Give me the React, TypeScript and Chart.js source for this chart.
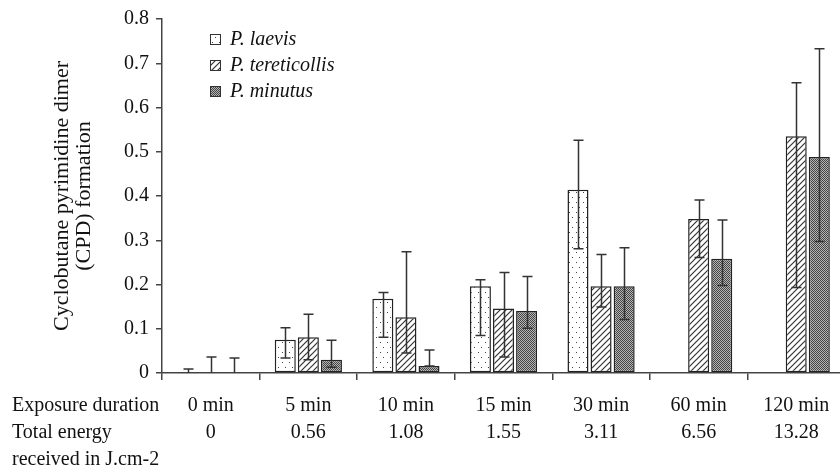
import React, { useEffect, useRef } from 'react';
import { Chart, registerables } from 'chart.js';

Chart.register(...registerables);

const categories = ['0 min', '5 min', '10 min', '15 min', '30 min', '60 min', '120 min'];
const energyLabels = ['0', '0.56', '1.08', '1.55', '3.11', '6.56', '13.28'];
const rowLabels = ['Exposure duration', 'Total energy', 'received in J.cm-2'];
const seriesNames = ['P. laevis', 'P. tereticollis', 'P. minutus'];
const yTitleLines = ['Cyclobutane pyrimidine dimer', '(CPD) formation'];

const laevisMean = [0.002, 0.075, 0.168, 0.196, 0.414, null, null];
const laevisLow = [0, 0.034, 0.081, 0.085, 0.281, null, null];
const laevisHigh = [0.009, 0.102, 0.182, 0.211, 0.526, null, null];

const tereticollisMean = [0, 0.081, 0.126, 0.146, 0.196, 0.348, 0.535];
const tereticollisLow = [0, 0.03, 0.045, 0.036, 0.149, 0.261, 0.193];
const tereticollisHigh = [0.036, 0.133, 0.274, 0.227, 0.268, 0.391, 0.656];

const minutusMean = [0, 0.03, 0.016, 0.14, 0.196, 0.258, 0.488];
const minutusLow = [0, 0.013, 0.016, 0.101, 0.121, 0.198, 0.297];
const minutusHigh = [0.034, 0.074, 0.052, 0.218, 0.283, 0.346, 0.733];

const yMin = 0;
const yMax = 0.8;
const yStep = 0.1;

const FONT = "'Liberation Serif', 'Times New Roman', serif";
const AXIS = '#444';
const TEXT = '#111';

function makePattern(kind: string): CanvasPattern | string {
  const c = document.createElement('canvas');
  const g = c.getContext('2d');
  if (!g) return '#fff';
  if (kind === 'dots') {
    c.width = 7; c.height = 10;
    g.fillStyle = '#fff'; g.fillRect(0, 0, 7, 10);
    g.fillStyle = '#444';
    g.fillRect(2, 2, 1, 1);
    g.fillRect(5, 7, 1, 1);
  } else if (kind === 'hatch') {
    c.width = 6; c.height = 6;
    g.fillStyle = '#fff'; g.fillRect(0, 0, 6, 6);
    g.strokeStyle = '#333'; g.lineWidth = 1.2;
    g.beginPath();
    g.moveTo(-1, 7); g.lineTo(7, -1);
    g.moveTo(-4, 4); g.lineTo(4, -4);
    g.moveTo(2, 10); g.lineTo(10, 2);
    g.stroke();
  } else {
    c.width = 2; c.height = 2;
    g.fillStyle = '#b5b5b5'; g.fillRect(0, 0, 2, 2);
    g.fillStyle = '#444';
    g.fillRect(0, 0, 1, 1);
    g.fillRect(1, 1, 1, 1);
  }
  return g.createPattern(c, 'repeat') || '#fff';
}

export default function App() {
  const ref = useRef<HTMLCanvasElement>(null);

  useEffect(() => {
    if (!ref.current) return;
    const patterns = [makePattern('dots'), makePattern('hatch'), makePattern('grid')];
    const errors = [
      { low: laevisLow, high: laevisHigh },
      { low: tereticollisLow, high: tereticollisHigh },
      { low: minutusLow, high: minutusHigh },
    ];
    const means = [laevisMean, tereticollisMean, minutusMean];

    const xTickLength = 7;
    const xTickPadding = 12;
    const lineH = 27;

    const extras = {
      id: 'extras',
      afterDatasetsDraw(chart: any) {
        const ctx = chart.ctx;
        const ys = chart.scales.y;
        ctx.save();
        ctx.strokeStyle = '#333';
        ctx.lineWidth = 1.5;
        errors.forEach((e, di) => {
          const meta = chart.getDatasetMeta(di);
          meta.data.forEach((bar: any, i: number) => {
            const lo = e.low[i];
            const hi = e.high[i];
            if (lo == null || hi == null) return;
            const x = Math.round(bar.x) + 0.5;
            const yl = ys.getPixelForValue(lo);
            const yh = ys.getPixelForValue(hi);
            ctx.beginPath();
            ctx.moveTo(x, yl); ctx.lineTo(x, yh);
            ctx.moveTo(x - 5, yh); ctx.lineTo(x + 5, yh);
            if (Math.abs(yl - ys.getPixelForValue(0)) > 1) {
              ctx.moveTo(x - 5, yl); ctx.lineTo(x + 5, yl);
            }
            ctx.stroke();
          });
        });
        ctx.restore();
      },
      afterDraw(chart: any) {
        const ctx = chart.ctx;
        const area = chart.chartArea;
        ctx.save();
        ctx.fillStyle = TEXT;
        ctx.font = `22px ${FONT}`;
        ctx.textAlign = 'center';
        ctx.textBaseline = 'middle';
        const cy = (area.top + area.bottom) / 2;
        yTitleLines.forEach((t, i) => {
          ctx.save();
          ctx.translate(62 + i * 22, cy);
          ctx.rotate(-Math.PI / 2);
          ctx.fillText(t, 0, 0);
          ctx.restore();
        });
        ctx.font = `20px ${FONT}`;
        ctx.textAlign = 'left';
        const rowTop = area.bottom + xTickLength + xTickPadding;
        rowLabels.forEach((t, i) => {
          ctx.fillText(t, 12, rowTop + lineH * (i + 0.5));
        });
        const lx = area.left + 48;
        seriesNames.forEach((name, i) => {
          const cyl = area.top + 20 + i * 26;
          ctx.fillStyle = patterns[i] as any;
          ctx.fillRect(lx, cyl - 5, 10, 10);
          ctx.strokeStyle = '#333';
          ctx.lineWidth = 1;
          ctx.strokeRect(lx + 0.5, cyl - 4.5, 10, 10);
          ctx.fillStyle = TEXT;
          ctx.font = `italic 20px ${FONT}`;
          ctx.fillText(name, lx + 20, cyl + 1);
        });
        ctx.restore();
      },
    };

    const chart = new Chart(ref.current, {
      type: 'bar',
      data: {
        labels: categories.map((c, i) => [c, energyLabels[i]]),
        datasets: seriesNames.map((name, i) => ({
          label: name,
          data: means[i] as any,
          backgroundColor: patterns[i] as any,
          borderColor: '#222',
          borderWidth: 1.5,
          borderSkipped: false,
          categoryPercentage: 0.71,
          barPercentage: 0.91,
        })),
      },
      options: {
        responsive: false,
        animation: false,
        layout: { padding: { top: 17, left: 0, right: 1, bottom: 0 } },
        plugins: { legend: { display: false }, tooltip: { enabled: false } },
        scales: {
          x: {
            grid: {
              display: true,
              drawOnChartArea: false,
              drawTicks: true,
              tickLength: xTickLength,
              color: AXIS,
              lineWidth: 1.5,
              offset: true,
            },
            border: { display: true, color: AXIS, width: 1.5 },
            ticks: {
              font: { family: FONT, size: 20, lineHeight: lineH / 20 },
              color: TEXT,
              padding: xTickPadding,
              maxRotation: 0,
              autoSkip: false,
            },
            afterFit: (s: any) => { s.height = 103; },
          },
          y: {
            min: yMin,
            max: yMax,
            ticks: {
              stepSize: yStep,
              font: { family: FONT, size: 20 },
              color: TEXT,
              padding: 7,
            },
            grid: {
              drawOnChartArea: false,
              drawTicks: true,
              tickLength: 6,
              color: AXIS,
              lineWidth: 1.5,
            },
            border: { display: true, color: AXIS, width: 1.5 },
            afterFit: (s: any) => { s.width = 162; },
          },
        },
      },
      plugins: [extras],
    });
    return () => chart.destroy();
  }, []);

  return (
    <div style={{ position: 'absolute', left: 0, top: 0, width: 840, height: 476, overflow: 'hidden', background: '#fff' }}>
      <canvas ref={ref} width={846} height={476} style={{ display: 'block', width: 846, height: 476 }} />
    </div>
  );
}
